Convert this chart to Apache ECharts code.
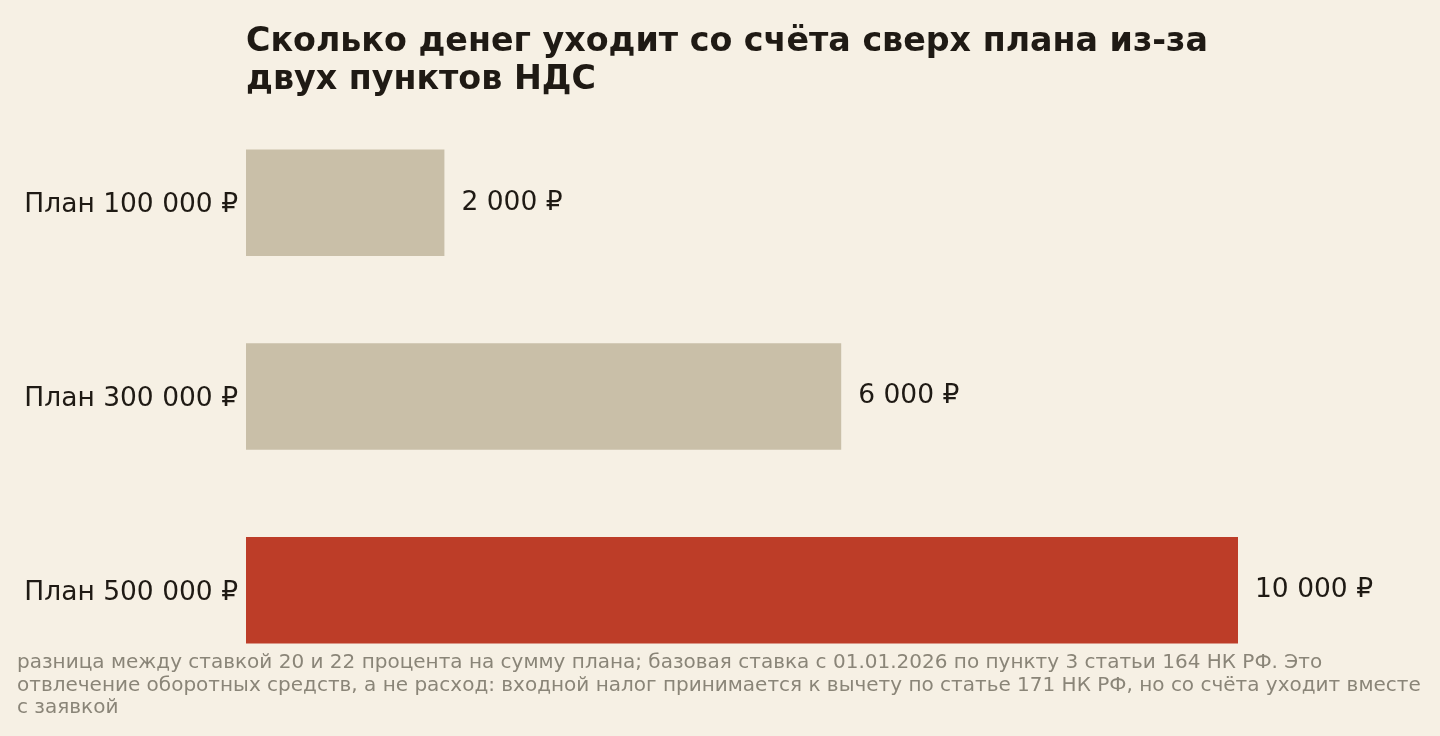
<!DOCTYPE html>
<html>
<head>
<meta charset="utf-8">
<script src="https://cdn.jsdelivr.net/npm/echarts@6/dist/echarts.min.js"></script>
<style>
  html, body { margin: 0; padding: 0; background: #f6f0e4; }
  #result { width: 1440px; height: 736px; }
</style>
</head>
<body>
<div id="result"></div>
<script>
var categories = ['План 100 000 ₽', 'План 300 000 ₽', 'План 500 000 ₽'];
var values = [2000, 6000, 10000];
var barColors = ['#c9bfa8', '#c9bfa8', '#bd3d28'];

var titleLines = ['Сколько денег уходит со счёта сверх плана из-за', 'двух пунктов НДС'];
var noteLines = [
	'разница между ставкой 20 и 22 процента на сумму плана; базовая ставка с 01.01.2026 по пункту 3 статьи 164 НК РФ. Это',
	'отвлечение оборотных средств, а не расход: входной налог принимается к вычету по статье 171 НК РФ, но со счёта уходит вместе',
	'с заявкой'
];

var font = '"DejaVu Sans", sans-serif';

function rub(v) {
	return String(v).replace(/\B(?=(\d{3})+(?!\d))/g, ' ') + ' ₽';
}

var myChart = echarts.init(document.getElementById('result'));

var option = {
	backgroundColor: '#f6f0e4',
	animation: false,
	textStyle: {
		fontFamily: font
	},
	title: [{
			text: titleLines.join('\n'),
			left: 246,
			top: 23,
			padding: 0,
			textStyle: {
				fontFamily: font,
				fontSize: 33.3,
				fontWeight: 'bold',
				lineHeight: 38,
				color: '#1f1a14'
			}
		},
		{
			text: noteLines.join('\n'),
			left: 17,
			top: 652,
			padding: 0,
			textStyle: {
				fontFamily: font,
				fontSize: 20,
				fontWeight: 'normal',
				lineHeight: 22.5,
				color: '#8a8578'
			}
		}
	],
	grid: {
		left: 246,
		right: 202,
		top: 106,
		bottom: 49,
		containLabel: false
	},
	xAxis: {
		type: 'value',
		min: 0,
		max: 10000,
		show: false
	},
	yAxis: {
		type: 'category',
		data: categories,
		inverse: true,
		axisLine: { show: false },
		axisTick: { show: false },
		splitLine: { show: false },
		axisLabel: {
			margin: 8,
			fontSize: 26.5,
			color: '#1f1a14',
			fontFamily: font,
			formatter: function (v) { return '{a|' + v + '}'; },
			rich: {
				a: {
					fontSize: 26.5,
					fontFamily: font,
					color: '#1f1a14',
					padding: [5, 0, 0, 0]
				}
			}
		}
	},
	series: [{
		type: 'bar',
		data: values.map(function (v, i) {
			return { value: v, itemStyle: { color: barColors[i] } };
		}),
		barCategoryGap: '45%',
		label: {
			show: true,
			position: 'right',
			distance: 17,
			fontSize: 26.5,
			color: '#1f1a14',
			fontFamily: font,
			formatter: function (p) { return rub(p.value); }
		}
	}]
};

myChart.setOption(option);
</script>
</body>
</html>
